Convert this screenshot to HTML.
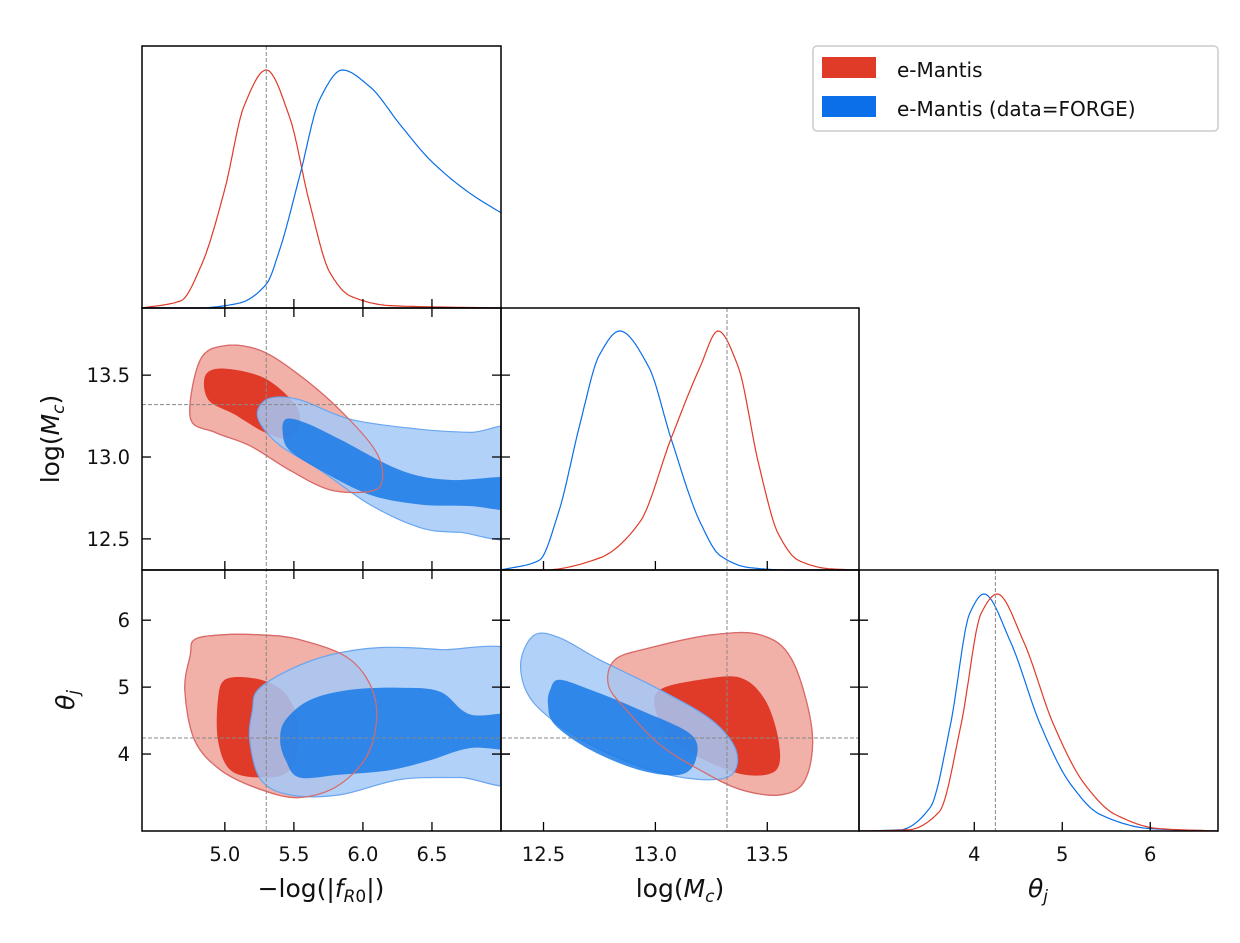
<!DOCTYPE html>
<html><head><meta charset="utf-8"><style>
body{margin:0;background:#fff;}
svg text{font-family:"DejaVu Sans","Liberation Sans",sans-serif;fill:#111;}
</style></head><body>
<svg id="fig" width="1240" height="938" viewBox="0 0 1240 938" xmlns="http://www.w3.org/2000/svg">
<defs>
<clipPath id="cA"><rect x="142" y="308" width="359" height="262"/></clipPath>
<clipPath id="cB"><rect x="142" y="570" width="359" height="261"/></clipPath>
<clipPath id="cC"><rect x="501" y="570" width="358" height="261"/></clipPath>
</defs>
<g>
<rect x="813" y="46" width="405" height="85" rx="4" fill="#fff" stroke="#ccc" stroke-width="1.5"/>
<rect x="822" y="57" width="54" height="21" fill="#e03a28"/>
<text x="897" y="77" font-size="20">e-Mantis</text>
<rect x="822" y="96" width="54" height="21" fill="#0a6fe8"/>
<text x="897" y="116" font-size="20">e-Mantis (data=FORGE)</text>
</g>
<g id="plots"></g>
</svg>
<script>
// ---- 1D marginals ----
const fR0RedX=[4.40,4.68,4.83,5.0,5.14,5.30,5.47,5.61,5.76,5.91,6.2,7.0];
const fR0RedY=[0,0.03,0.18,0.5,0.85,1.0,0.8,0.45,0.15,0.05,0.01,0];
const fR0BlueX=[4.4,4.8,5.1,5.3,5.40,5.54,5.69,5.85,6.05,6.27,6.49,6.78,7.0];
const fR0BlueY=[0,0,0.02,0.1,0.25,0.55,0.88,1.0,0.93,0.77,0.62,0.48,0.4];
const mcBlueX=[12.31,12.48,12.57,12.66,12.75,12.84,12.97,13.07,13.2,13.29,13.42,13.6,13.91];
const mcBlueY=[0,0.04,0.25,0.6,0.9,1.0,0.85,0.55,0.2,0.06,0.01,0,0];
const mcRedX=[12.31,12.5,12.75,12.93,13.07,13.2,13.28,13.37,13.46,13.55,13.64,13.78,13.91];
const mcRedY=[0,0,0.05,0.2,0.55,0.85,1.0,0.85,0.45,0.15,0.04,0.005,0];
const thBlueX=[2.69,3.16,3.5,3.73,3.95,4.11,4.41,4.75,5.09,5.43,6.0,6.77];
const thBlueY=[0,0.005,0.1,0.45,0.92,1.0,0.8,0.45,0.2,0.07,0.01,0];
const thRedX=[2.69,3.25,3.6,3.85,4.08,4.26,4.56,4.9,5.25,5.6,6.1,6.77];
const thRedY=[0,0.005,0.08,0.45,0.92,1.0,0.8,0.45,0.2,0.07,0.01,0];
// ---- truth markers ----
const truthFR0=5.30, truthMc=13.32, truthTh=4.24;
// ---- ticks ----
const fR0Ticks=[5.0,5.5,6.0,6.5], fR0Labels=["5.0","5.5","6.0","6.5"];
const mcTicks=[12.5,13.0,13.5], mcLabels=["12.5","13.0","13.5"];
const thTicks=[4,5,6], thLabels=["4","5","6"];
// ---- 2D contours (data coords: [x,y]) ----
const A_redOuter=[[4.75,13.24],[4.82,13.59],[5.00,13.68],[5.26,13.65],[5.54,13.50],[5.83,13.29],[6.09,13.04],[6.14,12.86],[6.05,12.79],[5.76,12.80],[5.47,12.92],[5.18,13.07],[4.93,13.15]];
const A_redInner=[[4.86,13.50],[5.00,13.54],[5.29,13.48],[5.51,13.32],[5.54,13.20],[5.47,13.11],[5.29,13.15],[5.07,13.26],[4.88,13.35]];
const A_blueOuter=[[5.24,13.29],[5.33,13.36],[5.54,13.35],[5.91,13.23],[6.41,13.17],[6.78,13.15],[7.14,13.15],[7.14,12.54],[6.70,12.54],[6.41,12.57],[6.05,12.71],[5.69,12.92],[5.40,13.07],[5.26,13.20]];
const A_blueInner=[[5.44,13.23],[5.58,13.21],[5.83,13.11],[6.27,12.92],[6.63,12.86],[7.14,12.87],[7.14,12.68],[6.78,12.70],[6.41,12.71],[6.05,12.77],[5.69,12.92],[5.47,13.04],[5.42,13.14]];
const B_redOuter=[[4.78,5.71],[4.97,5.78],[5.26,5.78],[5.54,5.71],[5.91,5.41],[6.09,4.81],[6.05,4.06],[5.83,3.54],[5.54,3.35],[5.26,3.47],[4.97,3.76],[4.78,4.21],[4.71,4.96],[4.75,5.48]];
const B_redInner=[[5.00,5.11],[5.18,5.14],[5.36,5.03],[5.47,4.81],[5.54,4.36],[5.47,3.76],[5.26,3.65],[5.04,3.76],[4.95,4.21],[4.95,4.81]];
const B_blueOuter=[[5.24,4.96],[5.47,5.26],[5.76,5.48],[6.12,5.59],[6.56,5.56],[7.14,5.44],[7.14,3.65],[6.70,3.65],[6.27,3.62],[5.83,3.39],[5.47,3.39],[5.26,3.62],[5.18,4.21],[5.20,4.66]];
const B_blueInner=[[5.44,4.51],[5.62,4.81],[5.91,4.96],[6.27,4.99],[6.56,4.93],[6.78,4.59],[7.14,4.59],[7.14,4.09],[6.78,4.09],[6.49,3.91],[6.20,3.76],[5.83,3.69],[5.54,3.65],[5.44,3.91],[5.40,4.21]];
const C_blueOuter=[[12.40,5.41],[12.46,5.78],[12.57,5.74],[12.75,5.41],[13.02,4.96],[13.25,4.51],[13.36,4.06],[13.34,3.69],[13.20,3.62],[12.98,3.76],[12.71,4.14],[12.51,4.59],[12.42,4.96]];
const C_blueInner=[[12.53,4.96],[12.57,5.11],[12.71,4.96],[12.93,4.66],[13.16,4.29],[13.18,3.91],[13.11,3.69],[12.93,3.76],[12.71,4.06],[12.55,4.44],[12.52,4.74]];
const C_redOuter=[[12.82,5.41],[12.98,5.59],[13.25,5.78],[13.47,5.78],[13.61,5.41],[13.70,4.36],[13.67,3.62],[13.56,3.39],[13.38,3.47],[13.20,3.76],[13.02,4.14],[12.87,4.66],[12.79,5.03]];
const C_redInner=[[13.02,4.96],[13.20,5.11],[13.38,5.14],[13.49,4.81],[13.55,4.21],[13.54,3.76],[13.40,3.69],[13.22,3.91],[13.07,4.21],[13.00,4.66]];

const NS="http://www.w3.org/2000/svg";
const root=document.getElementById('plots');
function lin(d0,d1,p0,p1){return v=>p0+(v-d0)/(d1-d0)*(p1-p0);}
const xF=lin(4.4,7.0,142,501), xM=lin(12.31,13.91,501,859), xT=lin(2.69,6.77,859,1218);
const yMc=lin(13.91,12.31,308,570), yTh=lin(6.75,2.85,570,831);
function el(tag,attrs,parent){const e=document.createElementNS(NS,tag);for(const k in attrs)e.setAttribute(k,attrs[k]);(parent||root).appendChild(e);return e;}
function crPath(pts,closed){
  const n=pts.length;let d="M"+pts[0][0].toFixed(1)+","+pts[0][1].toFixed(1);
  const g=i=>closed?pts[(i+n)%n]:pts[Math.max(0,Math.min(n-1,i))];
  const m=closed?n:n-1;
  for(let i=0;i<m;i++){const p0=g(i-1),p1=g(i),p2=g(i+1),p3=g(i+2);
    const c1=[p1[0]+(p2[0]-p0[0])/6,p1[1]+(p2[1]-p0[1])/6],c2=[p2[0]-(p3[0]-p1[0])/6,p2[1]-(p3[1]-p1[1])/6];
    d+="C"+c1[0].toFixed(1)+","+c1[1].toFixed(1)+" "+c2[0].toFixed(1)+","+c2[1].toFixed(1)+" "+p2[0].toFixed(1)+","+p2[1].toFixed(1);}
  return d+(closed?"Z":"");
}
// monotone cubic (Fritsch-Carlson) sampled densely
function monotone(xs,ys){
  const n=xs.length,h=[],d=[],m=new Array(n);
  for(let i=0;i<n-1;i++){h[i]=xs[i+1]-xs[i];d[i]=(ys[i+1]-ys[i])/h[i];}
  m[0]=d[0];m[n-1]=d[n-2];
  for(let i=1;i<n-1;i++){ if(d[i-1]*d[i]<=0)m[i]=0; else {const w1=2*h[i]+h[i-1],w2=h[i]+2*h[i-1];m[i]=(w1+w2)/(w1/d[i-1]+w2/d[i]);} }
  const out=[];
  for(let i=0;i<n-1;i++){for(let k=0;k<20;k++){const t=k/20,t2=t*t,t3=t2*t;
    const y=(2*t3-3*t2+1)*ys[i]+(t3-2*t2+t)*h[i]*m[i]+(-2*t3+3*t2)*ys[i+1]+(t3-t2)*h[i]*m[i+1];
    out.push([xs[i]+t*h[i],y]);}}
  out.push([xs[n-1],ys[n-1]]);return out;
}
function curve1d(xs,ys,sx,top,bot,color,name){
  const pts=monotone(xs,ys).map(p=>[sx(p[0]),bot-Math.max(0,p[1])*(bot-top)]);
  const p=el('path',{d:"M"+pts.map(p=>p[0].toFixed(1)+","+p[1].toFixed(1)).join("L"),fill:'none',stroke:color,'stroke-width':1.2});
  
  
}
function contour(pts,sx,sy,fill,op,stroke,clip,name){
  const pp=pts.map(p=>[sx(p[0]),sy(p[1])]);
  const p=el('path',{d:crPath(pp,true),fill:fill,'fill-opacity':op,stroke:stroke,'stroke-width':1.2,'clip-path':'url(#'+clip+')'});
  
  
}
function dash(x1,y1,x2,y2){const l=el('line',{x1,y1,x2,y2,stroke:'#888','stroke-width':1,'stroke-dasharray':'4,2'});
  
  }
function frame(x,y,w,h,name){const r=el('rect',{x,y,width:w,height:h,fill:'none',stroke:'#000','stroke-width':1.5});
  
  }
function xticks(ticks,labels,sx,top,bot,showLabels,both){
  ticks.forEach((t,i)=>{const x=sx(t);
    el('line',{x1:x,y1:bot-9,x2:x,y2:both?bot+9:bot,stroke:'#000','stroke-width':1.3});
    if(showLabels){const tx=el('text',{x:x,y:bot+30,'font-size':19.5,'text-anchor':'middle'});tx.textContent=labels[i];
      
      }
  });
}
function yticks(ticks,labels,sy,left,right,showLabels){
  ticks.forEach((t,i)=>{const y=sy(t);
    el('line',{x1:left,y1:y,x2:left+9,y2:y,stroke:'#000','stroke-width':1.3});
    el('line',{x1:right-9,y1:y,x2:right+9,y2:y,stroke:'#000','stroke-width':1.3});
    if(showLabels){const tx=el('text',{x:left-12,y:y+7,'font-size':19.5,'text-anchor':'end'});tx.textContent=labels[i];
      
      }
  });
}
const RED='#e03a28', BLUE='#1a7ae8', REDL='#f0a79f', BLUEL='#a3c9f7';
function panel(ro,ri,bo,bi,sx,sy,clip){
  contour(ro,sx,sy,REDL,0.9,'#e8766a',clip,'contour-red-95');
  contour(ri,sx,sy,RED,1,'none',clip,'contour-red-68');
  contour(bo,sx,sy,BLUEL,0.85,'#6aa6ef',clip,'contour-blue-95');
  contour(bi,sx,sy,BLUE,0.85,'none',clip,'contour-blue-68');
  contour(ro,sx,sy,'none',0,'#d86a6a',clip,'contour-red-outline');
}
panel(A_redOuter,A_redInner,A_blueOuter,A_blueInner,xF,yMc,'cA');
panel(B_redOuter,B_redInner,B_blueOuter,B_blueInner,xF,yTh,'cB');
panel(C_redOuter,C_redInner,C_blueOuter,C_blueInner,xM,yTh,'cC');
curve1d(fR0RedX,fR0RedY,xF,70,308,'#e03a28','fR0-red-marginal');
curve1d(fR0BlueX,fR0BlueY,xF,70,308,'#0a6fe8','fR0-blue-marginal');
curve1d(mcBlueX,mcBlueY,xM,331,570,'#0a6fe8','mc-blue-marginal');
curve1d(mcRedX,mcRedY,xM,331,570,'#e03a28','mc-red-marginal');
curve1d(thBlueX,thBlueY,xT,594,831,'#0a6fe8','theta-blue-marginal');
curve1d(thRedX,thRedY,xT,594,831,'#e03a28','theta-red-marginal');
dash(xF(truthFR0),46,xF(truthFR0),831);
dash(142,yMc(truthMc),501,yMc(truthMc));
dash(xM(truthMc),308,xM(truthMc),831);
dash(142,yTh(truthTh),859,yTh(truthTh));
dash(xT(truthTh),570,xT(truthTh),831);
frame(142,46,359,262,'panel-fR0-1d');
frame(142,308,359,262,'panel-fR0-mc');
frame(501,308,358,262,'panel-mc-1d');
frame(142,570,359,261,'panel-fR0-theta');
frame(501,570,358,261,'panel-mc-theta');
frame(859,570,359,261,'panel-theta-1d');
xticks(fR0Ticks,fR0Labels,xF,46,308,false,true);
xticks(fR0Ticks,fR0Labels,xF,308,570,false,true);
xticks(fR0Ticks,fR0Labels,xF,570,831,true,false);
xticks(mcTicks,mcLabels,xM,308,570,false,false);
xticks(mcTicks,mcLabels,xM,570,831,true,false);
xticks(thTicks,thLabels,xT,570,831,true,false);
yticks(mcTicks,mcLabels,yMc,142,501,true);
yticks(thTicks,thLabels,yTh,142,501,true);
yticks(thTicks,thLabels,yTh,501,859,false);
</script>
<script>
(function(){
const s=document.getElementById('fig');
function t(x,y,html,size,name,rot){
  const e=document.createElementNS("http://www.w3.org/2000/svg",'text');
  e.setAttribute('x',x);e.setAttribute('y',y);e.setAttribute('font-size',size);e.setAttribute('text-anchor','middle');
  if(rot)e.setAttribute('transform','rotate(-90 '+x+' '+y+')');
  e.innerHTML=html;
  
  
  s.appendChild(e);
}
t(321,897,'−log(|<tspan font-style="italic">f</tspan><tspan font-size="17" dy="5" font-style="italic">R</tspan><tspan font-size="17">0</tspan><tspan dy="-5">|)</tspan>',25,'x-axis-title-fR0');
t(680,897,'log(<tspan font-style="italic">M</tspan><tspan font-size="17" dy="5" font-style="italic">c</tspan><tspan dy="-5">)</tspan>',25,'x-axis-title-mc');
t(1038,897,'<tspan font-style="italic">θ</tspan><tspan font-size="17" dy="5" font-style="italic">j</tspan>',25,'x-axis-title-theta');
t(59,439,'log(<tspan font-style="italic">M</tspan><tspan font-size="17" dy="5" font-style="italic">c</tspan><tspan dy="-5">)</tspan>',25,'y-axis-title-mc',true);
t(74,700,'<tspan font-style="italic">θ</tspan><tspan font-size="17" dy="5" font-style="italic">j</tspan>',25,'y-axis-title-theta',true);
})();
</script>
</body></html>
